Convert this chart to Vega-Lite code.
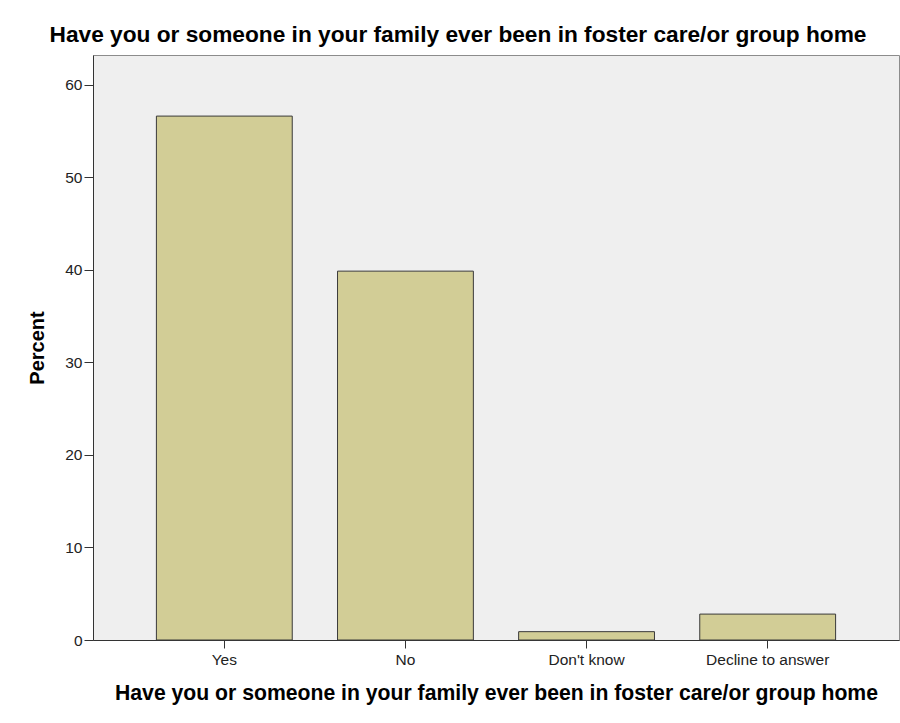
{
  "$schema": "https://vega.github.io/schema/vega-lite/v6.json",
  "autosize": {"type": "none"},
  "padding": {"left": 93, "top": 55, "right": 1, "bottom": 83},
  "width": 806,
  "height": 585,
  "background": "#ffffff",
  "title": {
    "text": "Have you or someone in your family ever been in foster care/or group home",
    "anchor": "middle",
    "frame": "group",
    "dx": -38,
    "dy": 21,
    "offset": 11,
    "baseline": "alphabetic",
    "font": "Liberation Sans",
    "fontSize": 22.7,
    "fontWeight": "bold",
    "color": "#000000"
  },
  "data": {
    "values": [
      {"answer": "Yes", "percent": 56.6},
      {"answer": "No", "percent": 39.85},
      {"answer": "Don't know", "percent": 0.9},
      {"answer": "Decline to answer", "percent": 2.8}
    ]
  },
  "mark": {"type": "bar", "fill": "#d2cd96", "stroke": "#3a3a3a", "strokeWidth": 1},
  "encoding": {
    "x": {
      "field": "answer",
      "type": "nominal",
      "sort": null,
      "scale": {"paddingInner": 0.25, "paddingOuter": 0.35},
      "axis": {
        "title": "Have you or someone in your family ever been in foster care/or group home",
        "labelAngle": 0,
        "tickSize": 8,
        "labelPadding": 4,
        "titlePadding": 15,
        "titleFontSize": 21.2
      }
    },
    "y": {
      "field": "percent",
      "type": "quantitative",
      "scale": {"domain": [0, 63.2], "nice": false},
      "axis": {
        "title": "Percent",
        "values": [0, 10, 20, 30, 40, 50, 60],
        "grid": false,
        "tickSize": 9,
        "labelPadding": 2,
        "titlePadding": 17,
        "titleFontSize": 20
      }
    }
  },
  "config": {
    "font": "Liberation Sans",
    "view": {"fill": "#efefef", "stroke": "#8c8c8c", "strokeWidth": 1},
    "axis": {
      "domainColor": "#333333",
      "domainWidth": 1,
      "tickColor": "#333333",
      "tickWidth": 1,
      "labelFont": "Liberation Sans",
      "labelFontSize": 15.5,
      "labelColor": "#222222",
      "titleFont": "Liberation Sans",
      "titleFontWeight": "bold",
      "titleColor": "#000000"
    }
  }
}
